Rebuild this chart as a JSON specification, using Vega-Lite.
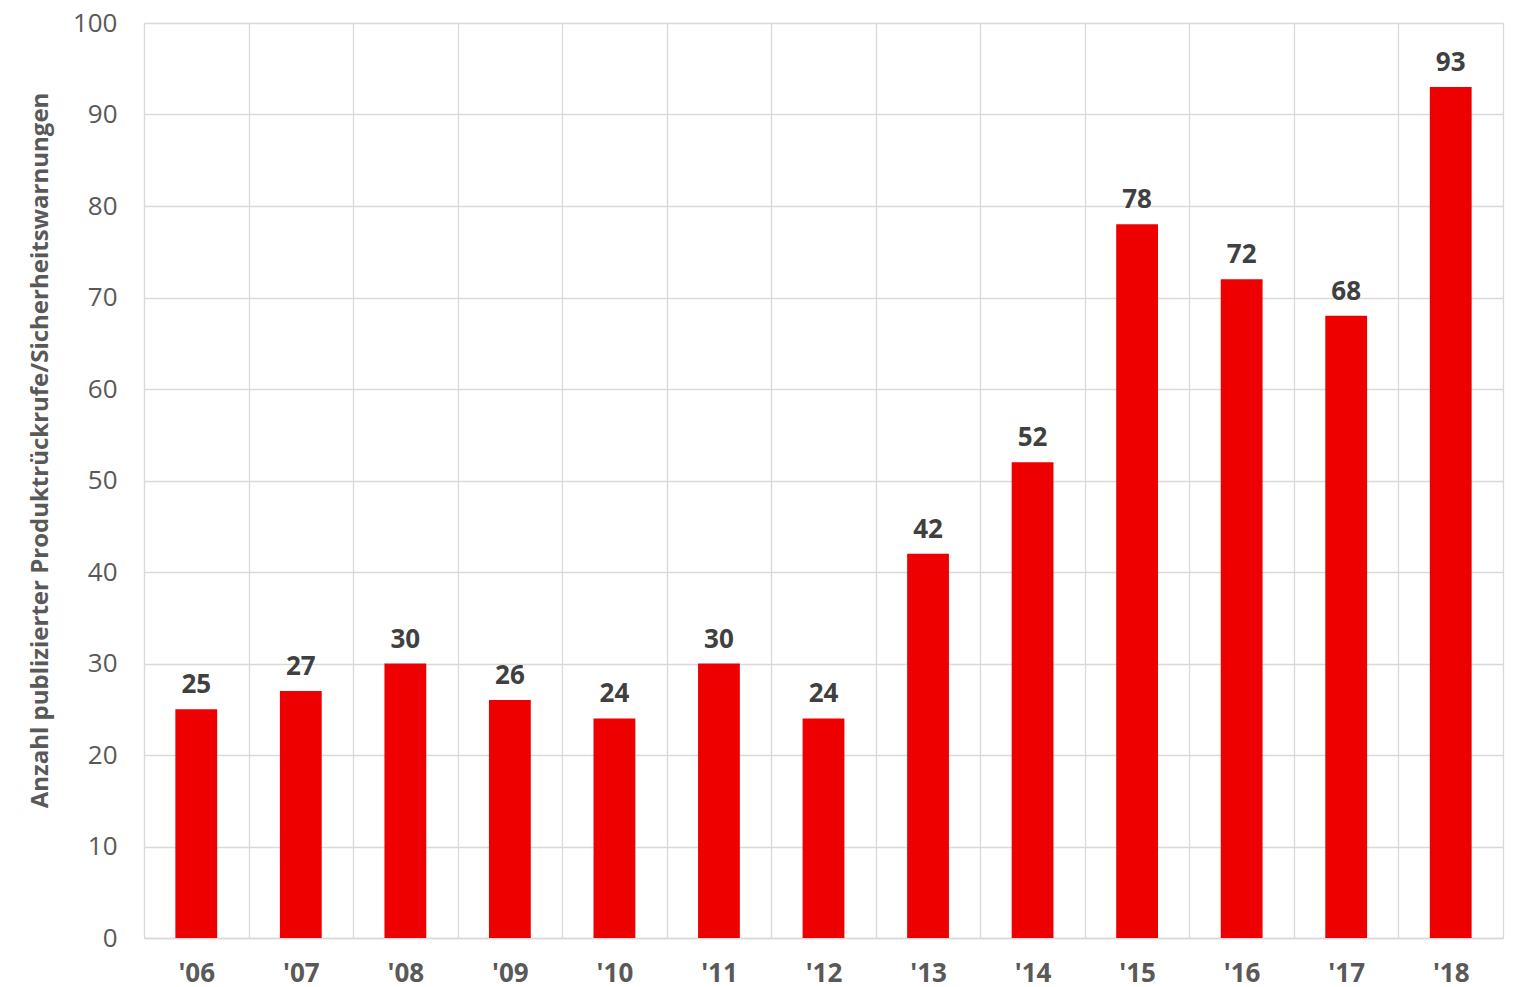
{
  "$schema": "https://vega.github.io/schema/vega-lite/v6.json",
  "width": 1359,
  "height": 915,
  "autosize": "none",
  "padding": {"left": 144, "top": 23, "right": 24, "bottom": 49},
  "background": "white",
  "config": {
    "view": {"stroke": null},
    "font": "Open Sans"
  },
  "data": {
    "values": [
      {"jahr": "'06", "anzahl": 25},
      {"jahr": "'07", "anzahl": 27},
      {"jahr": "'08", "anzahl": 30},
      {"jahr": "'09", "anzahl": 26},
      {"jahr": "'10", "anzahl": 24},
      {"jahr": "'11", "anzahl": 30},
      {"jahr": "'12", "anzahl": 24},
      {"jahr": "'13", "anzahl": 42},
      {"jahr": "'14", "anzahl": 52},
      {"jahr": "'15", "anzahl": 78},
      {"jahr": "'16", "anzahl": 72},
      {"jahr": "'17", "anzahl": 68},
      {"jahr": "'18", "anzahl": 93}
    ]
  },
  "encoding": {
    "x": {
      "field": "jahr",
      "type": "nominal",
      "sort": null,
      "scale": {"paddingInner": 0, "paddingOuter": 0},
      "axis": {
        "title": null,
        "labelAngle": 0,
        "labelFont": "Open Sans",
        "labelFontSize": 26,
        "labelFontWeight": "bold",
        "labelColor": "#595959",
        "labelPadding": 22,
        "ticks": false,
        "tickSize": 0,
        "tickBand": "extent",
        "grid": true,
        "gridColor": "#d9d9d9",
        "gridWidth": 1.3,
        "domainColor": "#d9d9d9",
        "domainWidth": 1.5
      }
    },
    "y": {
      "field": "anzahl",
      "type": "quantitative",
      "scale": {"domain": [0, 100], "nice": false},
      "axis": {
        "values": [0, 10, 20, 30, 40, 50, 60, 70, 80, 90, 100],
        "title": "Anzahl publizierter Produktrückrufe/Sicherheitswarnungen",
        "titleFont": "Open Sans",
        "titleFontSize": 24,
        "titleFontWeight": "bold",
        "titleColor": "#595959",
        "titleAngle": -90,
        "titleX": -104,
        "titleY": 427,
        "titleAlign": "center",
        "titleBaseline": "middle",
        "labelFont": "Open Sans",
        "labelFontSize": 26,
        "labelColor": "#595959",
        "labelPadding": 27,
        "ticks": false,
        "tickSize": 0,
        "domain": false,
        "grid": true,
        "gridColor": "#d9d9d9",
        "gridWidth": 1.3
      }
    }
  },
  "layer": [
    {
      "mark": {"type": "bar", "color": "#ee0000", "width": {"band": 0.4}}
    },
    {
      "mark": {
        "type": "text",
        "baseline": "bottom",
        "dy": -11,
        "font": "Open Sans",
        "fontSize": 26,
        "fontWeight": "bold",
        "color": "#404040"
      },
      "encoding": {"text": {"field": "anzahl", "type": "quantitative"}}
    }
  ]
}
